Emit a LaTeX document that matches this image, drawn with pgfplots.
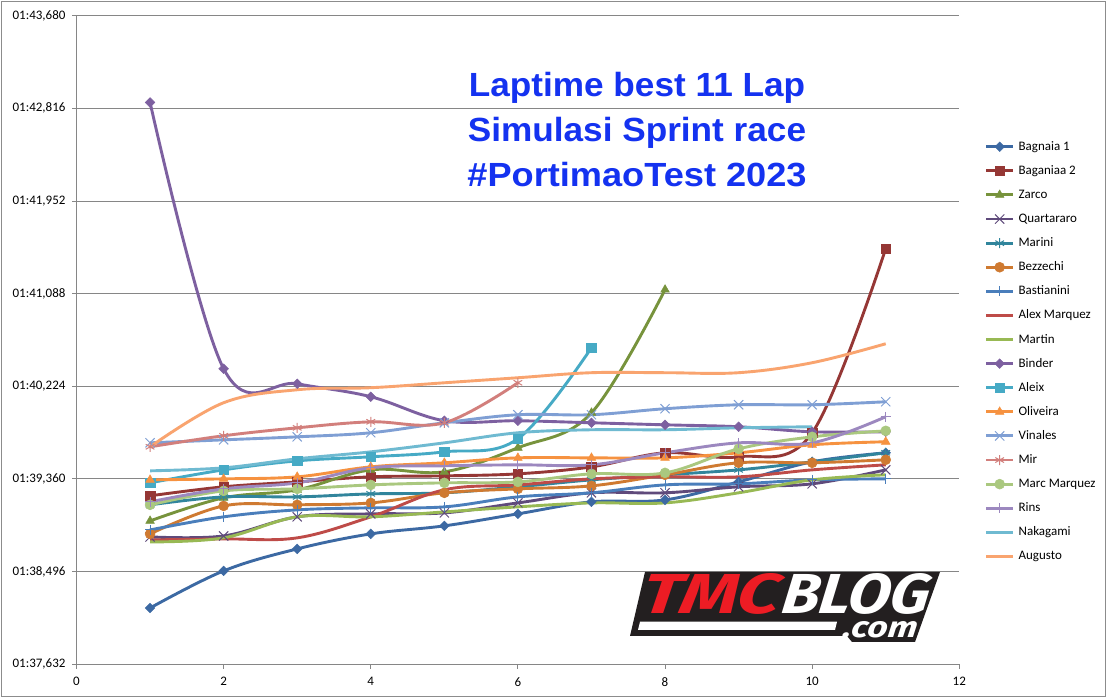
\documentclass[border=0pt]{standalone}
\usepackage{pgfplots}
\pgfplotsset{compat=1.18}
\usepackage{graphicx}
\usepackage{fontspec}
\setmainfont{Carlito}
\newfontfamily\titlefont{Liberation Sans}
\newfontfamily\logofont{Fira Sans}
\definecolor{gridgrey}{HTML}{868686}
\definecolor{framegrey}{HTML}{8C8C8C}
\definecolor{titleblue}{RGB}{20,50,240}
\definecolor{tmcred}{HTML}{ED1C24}
\definecolor{logoblack}{HTML}{231F20}
\definecolor{c1}{HTML}{3C69A3}
\definecolor{c2}{HTML}{953735}
\definecolor{c3}{HTML}{77933C}
\definecolor{c4}{HTML}{5F4A7B}
\definecolor{c5}{HTML}{31859C}
\definecolor{c6}{HTML}{CF7A31}
\definecolor{c7}{HTML}{4A7EBB}
\definecolor{c8}{HTML}{BE4B48}
\definecolor{c9}{HTML}{98B954}
\definecolor{c10}{HTML}{7D60A0}
\definecolor{c11}{HTML}{46AAC5}
\definecolor{c12}{HTML}{F69240}
\definecolor{c13}{HTML}{7F9FD4}
\definecolor{c14}{HTML}{D27F7C}
\definecolor{c15}{HTML}{AAC87F}
\definecolor{c16}{HTML}{9C88BF}
\definecolor{c17}{HTML}{6FBAD1}
\definecolor{c18}{HTML}{F9A46F}
\begin{document}
\begin{tikzpicture}
\path[fill=white] (0,0) rectangle (1111bp,700bp);
\draw[color=framegrey, line width=1bp] (1.5bp,3.3bp) rectangle (1105bp,698.3bp);
\begin{axis}[
  at={(76.5bp,35.7bp)}, anchor=south west,
  width=882.8bp, height=648.6bp, scale only axis,
  xmin=0, xmax=12, ymin=97.632, ymax=103.68,
  xtick={0,2,4,6,8,10,12},
  ytick={97.632,98.496,99.360,100.224,101.088,101.952,102.816,103.680},
  yticklabels={{01:37,632},{01:38,496},{01:39,360},{01:40,224},{01:41,088},{01:41,952},{01:42,816},{01:43,680}},
  ymajorgrids, major grid style={draw=gridgrey, line width=1bp},
  axis lines=left, axis line style={-, draw=gridgrey, line width=1bp},
  tick align=outside, major tick length=4.5bp,
  tick style={draw=gridgrey, line width=1bp},
  ticklabel style={font=\fontsize{13bp}{15bp}\selectfont},
  yticklabel style={xshift=-3bp},
  xticklabel style={yshift=-5bp},
  /pgf/number format/assume math mode=true,
  every axis plot/.append style={smooth, tension=0.6, line width=2.9bp},
  legend cell align=left,
  legend style={at={(1.0288,0.8072)}, anchor=north west, draw=none, fill=none,
    inner sep=0pt, outer sep=0pt,
    font=\fontsize{13bp}{15bp}\selectfont, row sep=12.1bp, column sep=4bp,
    nodes={inner sep=0pt, text height=9.5bp, text depth=2.5bp}},
  legend image code/.code={\draw[mark repeat=2,mark phase=2,#1] plot coordinates {(0bp,0bp)(13.5bp,0bp)(27bp,0bp)};},
]
\addplot[c1, mark=square*, mark size=3.4bp, mark options={rotate=45, solid, line width=0.5bp}] coordinates {
(1,98.157)(2,98.503)(3,98.708)(4,98.848)(5,98.923)(6,99.035)(7,99.147)(8,99.165)(9,99.333)(10,99.520)(11,99.604)};
\addlegendentry{Bagnaia 1}
\addplot[c2, mark=square*, mark size=4.8bp, mark options={line width=0.5bp}] coordinates {
(1,99.203)(2,99.287)(3,99.333)(4,99.380)(5,99.389)(6,99.408)(7,99.473)(8,99.604)(9,99.567)(10,99.791)(11,101.508)};
\addlegendentry{Baganiaa 2}
\addplot[c3, mark=triangle*, mark size=5bp, mark options={line width=0.5bp}] coordinates {
(1,98.969)(2,99.184)(3,99.259)(4,99.445)(5,99.427)(6,99.651)(7,99.977)(8,101.125)};
\addlegendentry{Zarco}
\addplot[c4, mark=x, mark size=6.5bp, mark options={line width=1bp}] coordinates {
(1,98.820)(2,98.829)(3,99.007)(4,99.035)(5,99.044)(6,99.137)(7,99.231)(8,99.231)(9,99.287)(10,99.315)(11,99.445)};
\addlegendentry{Quartararo}
\addplot[c5, mark=asterisk, mark size=5bp, mark options={line width=1bp}] coordinates {
(1,99.119)(2,99.193)(3,99.193)(4,99.221)(5,99.231)(6,99.287)(7,99.352)(8,99.399)(9,99.445)(10,99.520)(11,99.604)};
\addlegendentry{Marini}
\addplot[c6, mark=*, mark size=5bp, mark options={line width=0.5bp}] coordinates {
(1,98.848)(2,99.109)(3,99.119)(4,99.137)(5,99.231)(6,99.268)(7,99.296)(8,99.399)(9,99.511)(10,99.511)(11,99.539)};
\addlegendentry{Bezzechi}
\addplot[c7, mark=+, mark size=5bp, mark options={line width=1bp}] coordinates {
(1,98.885)(2,99.007)(3,99.072)(4,99.091)(5,99.100)(6,99.193)(7,99.231)(8,99.305)(9,99.315)(10,99.352)(11,99.361)};
\addlegendentry{Bastianini}
\addplot[c8, no markers] coordinates {
(1,98.792)(2,98.801)(3,98.811)(4,99.007)(5,99.259)(6,99.305)(7,99.361)(8,99.380)(9,99.380)(10,99.445)(11,99.492)};
\addlegendentry{Alex Marquez}
\addplot[c9, no markers] coordinates {
(1,98.773)(2,98.811)(3,99.007)(4,99.007)(5,99.053)(6,99.100)(7,99.137)(8,99.137)(9,99.231)(10,99.352)(11,99.399)};
\addlegendentry{Martin}
\addplot[c10, mark=square*, mark size=3.4bp, mark options={rotate=45, line width=0.5bp}] coordinates {
(1,102.871)(2,100.388)(3,100.248)(4,100.127)(5,99.903)(6,99.903)(7,99.884)(8,99.865)(9,99.847)(10,99.800)(11,99.800)};
\addlegendentry{Binder}
\addplot[c11, mark=square*, mark size=4.8bp, mark options={line width=0.5bp}] coordinates {
(1,99.324)(2,99.445)(3,99.529)(4,99.567)(5,99.613)(6,99.735)(7,100.584)};
\addlegendentry{Aleix}
\addplot[c12, mark=triangle*, mark size=5bp, mark options={line width=0.5bp}] coordinates {
(1,99.352)(2,99.361)(3,99.380)(4,99.473)(5,99.511)(6,99.557)(7,99.557)(8,99.557)(9,99.604)(10,99.679)(11,99.707)};
\addlegendentry{Oliveira}
\addplot[c13, mark=x, mark size=6.5bp, mark options={line width=1bp}] coordinates {
(1,99.697)(2,99.725)(3,99.753)(4,99.791)(5,99.884)(6,99.959)(7,99.959)(8,100.015)(9,100.052)(10,100.052)(11,100.080)};
\addlegendentry{Vinales}
\addplot[c14, mark=asterisk, mark size=5bp, mark options={line width=1bp}] coordinates {
(1,99.660)(2,99.763)(3,99.837)(4,99.893)(5,99.884)(6,100.257)};
\addlegendentry{Mir}
\addplot[c15, mark=*, mark size=5bp, mark options={line width=0.5bp}] coordinates {
(1,99.119)(2,99.249)(3,99.268)(4,99.305)(5,99.324)(6,99.333)(7,99.408)(8,99.417)(9,99.641)(10,99.753)(11,99.809)};
\addlegendentry{Marc Marquez}
\addplot[c16, mark=+, mark size=5bp, mark options={line width=1bp}] coordinates {
(1,99.147)(2,99.268)(3,99.324)(4,99.464)(5,99.483)(6,99.492)(7,99.492)(8,99.604)(9,99.697)(10,99.697)(11,99.940)};
\addlegendentry{Rins}
\addplot[c17, no markers] coordinates {
(1,99.436)(2,99.464)(3,99.548)(4,99.613)(5,99.697)(6,99.791)(7,99.819)(8,99.819)(9,99.837)(10,99.847)};
\addlegendentry{Nakagami}
\addplot[c18, no markers] coordinates {
(1,99.660)(2,100.071)(3,100.192)(4,100.211)(5,100.257)(6,100.304)(7,100.351)(8,100.351)(9,100.351)(10,100.444)(11,100.621)};
\addlegendentry{Augusto}
\end{axis}
% title
\node[anchor=base, inner sep=0pt, text=titleblue, font=\titlefont\bfseries\fontsize{33.5bp}{36bp}\selectfont] at (637bp,603.3bp) {\scalebox{1.05}[1]{Laptime best 11 Lap}};
\node[anchor=base, inner sep=0pt, text=titleblue, font=\titlefont\bfseries\fontsize{33.5bp}{36bp}\selectfont] at (637bp,558.3bp) {\scalebox{1.05}[1]{Simulasi Sprint race}};
\node[anchor=base, inner sep=0pt, text=titleblue, font=\titlefont\bfseries\fontsize{33.5bp}{36bp}\selectfont] at (637bp,513.3bp) {\scalebox{1.08}[1]{\#PortimaoTest 2023}};
% logo
\fill[logoblack] (645bp,128bp) -- (940bp,128bp) -- (915bp,58bp) -- (852bp,58bp) -- (847bp,64bp) -- (630bp,64bp) -- cycle;
\fill[white] (640bp,78.3bp) -- (837bp,78.3bp) -- (835bp,70bp) -- (638bp,70bp) -- cycle;
\node[anchor=base west, inner sep=0pt, text=tmcred, xslant=0.15, transform shape] at (640bp,86bp) {\resizebox{138bp}{40bp}{\logofont\bfseries\itshape TMC}};
\node[anchor=base west, inner sep=0pt, text=white, xslant=0.15, transform shape] at (780bp,86bp) {\resizebox{148bp}{40bp}{\logofont\bfseries\itshape BLOG}};
\node[anchor=base west, inner sep=0pt, text=white, xslant=0.15, transform shape] at (842bp,62bp) {\resizebox{74bp}{16bp}{\logofont\bfseries\itshape .com}};
\end{tikzpicture}
\end{document}
